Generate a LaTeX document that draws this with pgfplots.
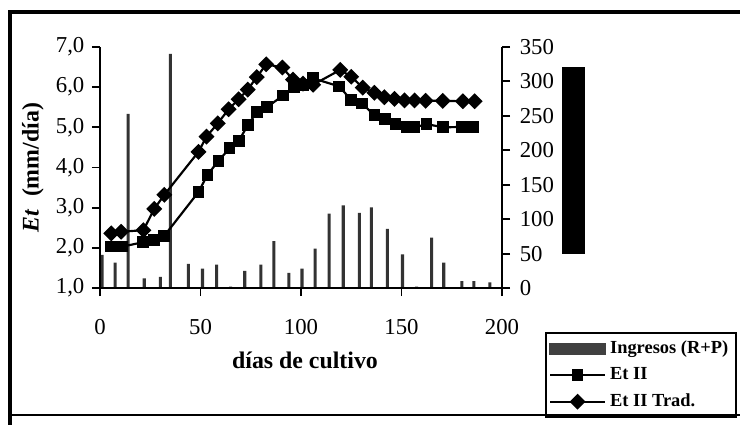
\documentclass[border=0pt]{standalone}
\usepackage{fontspec}
\setmainfont{Liberation Serif}
\usepackage{pgfplots}
\pgfplotsset{compat=1.18}
\usepackage{pgfplotstable}

% ingresos (riego + precipitacion), eje derecho
\pgfplotstableread{
dia ing
1 48
7.5 37
14 253
22 14
30 16
35 340
44 35
51 28
58 34
65 2
72 25
80 34
86.5 68
94 22
100.5 28
107 57
114 108
121 120
129 109
135 117
143 86
150.5 49
157.5 2
165 73
171 37
180 10
186 10
194 8
}\ingresos

\pgfplotstableread{
dia et
5.6 2.03
11 2.03
21.5 2.14
27 2.20
32 2.30
49 3.39
53.5 3.82
59 4.17
64.5 4.48
69 4.66
73.5 5.05
78 5.38
83 5.50
91 5.79
96.5 5.99
101 6.06
106 6.22
119 6.02
125 5.68
130.5 5.59
136.5 5.30
141.8 5.21
147 5.09
152.5 5.00
156.5 5.00
162.5 5.08
170.8 5.00
180 5.01
185.7 5.01
}\etii

\pgfplotstableread{
dia et
5.6 2.36
10.5 2.40
21.6 2.44
27 2.97
32 3.32
49 4.39
53 4.77
58.6 5.10
64 5.45
69 5.70
73.5 5.94
78 6.25
82.7 6.57
90.7 6.49
96 6.19
101 6.09
106 6.06
119.5 6.43
125 6.26
130.7 5.99
136.5 5.86
141.5 5.75
146.5 5.71
151.5 5.67
156.5 5.67
162 5.66
170.5 5.66
180.5 5.65
186.4 5.65
}\etiitrad

\pgfplotsset{
  base/.style={
    at={(1.6216cm,2.2216cm)}, anchor=south west,
    scale only axis, width=6.519cm, height=3.908cm,
    xmin=0, xmax=200,
    tick align=outside, major tick length=0.13cm,
    tick style={black, line width=0.9pt},
    axis line style={line width=1pt},
    tick label style={font=\fontsize{10.5}{12}\selectfont},
    /pgf/number format/assume math mode=true}}

\begin{document}
\begin{tikzpicture}
\useasboundingbox (0,0) rectangle (12cm,6.8919cm);

% eje derecho: ingresos
\begin{axis}[base,
  ymin=0, ymax=350, ytick={0,50,...,350},
  axis y line*=right, axis x line=none,
  yticklabel style={xshift=1pt}]
\addplot[ybar, bar width=0.05cm, fill=black!80, draw=none]
  table[x=dia,y=ing] {\ingresos};
\end{axis}

% eje izquierdo: Et
\begin{axis}[base,
  ymin=1, ymax=7, ytick={1,...,7},
  xtick={0,50,...,200},
  axis y line*=left, axis x line*=bottom,
  yticklabel style={/pgf/number format/.cd, fixed, fixed zerofill,
    precision=1, use comma},
  xticklabel style={yshift=-0.25cm},
  every axis y label/.style={at={(axis description cs:-0.167,0.5)},
    rotate=90, anchor=center},
  every axis x label/.style={at={(axis description cs:0.51,-0.30)},
    anchor=center},
  label style={font=\fontsize{11}{13}\selectfont\bfseries},
  ylabel={\textit{Et}\ \ (mm/día)},
  xlabel={días de cultivo},
  legend image code/.code={\draw[mark repeat=2,mark phase=2,#1]
    plot coordinates {(0cm,0cm) (0.44cm,0cm) (0.88cm,0cm)};},
  legend style={at={(1.107,-0.1826)}, anchor=north west,
    draw=black, line width=1pt, inner sep=1.5pt, row sep=1pt,
    font=\fontsize{8.5}{10}\selectfont\bfseries,
    cells={anchor=west}}]
\addlegendimage{legend image code/.code={
  \fill[black!75] (0cm,-0.08cm) rectangle (0.88cm,0.08cm);}}
\addlegendentry{Ingresos (R+P)}
\addplot[black, line width=1pt, mark=square*, mark size=2.2pt,
  mark options={solid, fill=black}]
  table[x=dia,y=et] {\etii};
\addlegendentry{Et II}
\addplot[black, line width=1pt, mark=square*, mark size=2.1pt,
  mark options={solid, fill=black, rotate=45}]
  table[x=dia,y=et] {\etiitrad};
\addlegendentry{Et II Trad.}
\end{axis}

% marco y bloque negro
\begin{scope}[x=0.0162162cm, y=0.0162162cm]
\fill[black] (562,171) rectangle (585,358);
\draw[line width=1.6pt] (740,413) -- (10,413) -- (10,0);
\draw[line width=1.2pt] (10,10) -- (740,10);
\end{scope}
\end{tikzpicture}
\end{document}
